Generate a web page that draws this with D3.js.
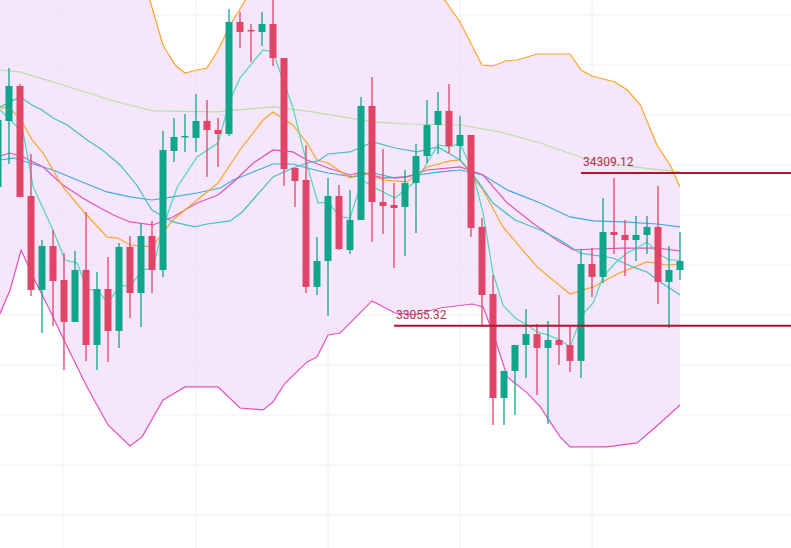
<!DOCTYPE html>
<html><head><meta charset="utf-8">
<script src="https://cdn.jsdelivr.net/npm/d3@7/dist/d3.min.js"></script>
<style>body{margin:0;background:#fff}svg{display:block}</style>
</head><body><svg id="c" width="791" height="548"></svg>
<script>
// candles: [open, high, low, close]
const candles = [
[34194,34784,34169,34743],[34735,35169,34382,35022],[35022,35038,34112,34112],[34120,34464,33300,33349],
[33349,33759,32996,33710],[33710,33841,33054,33423],[33431,33652,32693,33087],[33087,33669,33087,33513],
[33513,33989,32767,32898],[32898,33497,32693,33357],[33357,33620,32759,33013],[33013,33734,32873,33702],
[33702,33792,33119,33324],[33324,33898,33046,33792],[33792,33915,33324,33513],[33513,34653,33456,34497],
[34489,34759,34399,34604],[34604,34792,34481,34612],[34596,34956,34481,34735],[34735,34907,34276,34661],
[34661,34759,34358,34628],[34628,35653,34612,35547],[35547,35629,35333,35465],[35481,35530,35219,35473],
[35465,35629,35350,35530],[35530,35768,35186,35251],[35251,35251,34202,34341],[34349,34349,34030,34243],
[34251,34538,33324,33374],[33374,33784,33308,33587],[33587,34267,33136,34120],[34120,34210,33677,33685],
[33677,34169,33644,33923],[33923,34932,33923,34858],[34858,35096,33743,34071],[34071,34505,33808,34038],
[34046,34226,33529,34021],[34030,34333,33628,34226],[34226,34546,33816,34448],[34448,34907,34390,34702],
[34702,34973,34464,34817],[34817,35038,34472,34530],[34530,34776,34415,34620],[34620,34620,33784,33857],
[33866,33939,33062,33308],[33316,33472,32242,32463],[32463,32685,32242,32685],[32685,32898,32324,32898],
[32898,33193,32627,32988],[32988,33070,32488,32873],[32873,33095,32250,32939],[32939,33308,32734,32898],
[32898,33062,32677,32767],[32767,33685,32627,33562],[33562,33693,33292,33456],[33456,34103,33406,33824],
[33824,34267,33644,33800],[33800,33923,33464,33759],[33759,33956,33587,33800],[33800,33956,33644,33866],
[33866,34202,33234,33415],[33415,33710,33037,33513],[33513,33824,33431,33587]];

// indicator lines: [candle index, price]
const bbUpper = [[0,36137],[12.9,36137],[13.8,35727],[15,35358],[16.1,35194],[17,35128],[18.1,35153],[19,35169],[20,35317],[21.1,35522],[22.5,35727],[23.4,35973],[39.3,35973],[40.6,35727],[42,35547],[44,35194],[45,35186],[46.1,35227],[47.2,35235],[49,35284],[52,35284],[53,35153],[54,35104],[56.1,35055],[57.2,34989],[58.4,34866],[59.9,34538],[61.1,34374],[62,34194]];
const bbLower = [[0,33119],[1.1,33349],[2.1,33677],[3.2,33456],[4.7,33185],[6.3,32882],[8.1,32554],[10,32242],[12,32070],[13.1,32144],[15,32447],[17,32554],[20,32554],[22,32381],[24.1,32365],[25,32431],[26.1,32586],[28.1,32759],[29,32800],[30,32980],[31.1,32996],[34,33259],[36.1,33160],[37.9,33144],[40.2,33201],[43.1,33234],[44.1,33210],[45,32996],[46.3,32636],[48.1,32505],[49.3,32390],[51.1,32144],[52,32062],[55.4,32062],[58.1,32095],[60.2,32258],[62,32406]];
const maFast = [[0.2,34825],[2.3,34636],[3.2,34194],[5,33841],[6.1,33595],[7.2,33570],[8.1,33349],[9,33349],[10,33242],[11.1,33390],[12,33374],[13.1,33513],[14.1,33529],[15,33866],[16.3,34194],[18.1,34440],[20,34554],[21.1,34907],[22,35087],[23.1,35210],[24.1,35317],[25,35301],[25.9,35071],[26.8,34850],[27.6,34554],[28.4,34276],[29.1,34062],[30,34071],[31.1,33948],[32,33939],[33.1,34251],[34.1,34194],[36.1,34103],[37,34169],[38.1,34251],[39,34390],[40,34538],[41.1,34522],[42,34554],[43.1,34333],[44.1,33980],[45,33489],[45.9,33226],[47,33119],[48.1,33062],[49,33005],[50,32980],[51.1,32939],[52,32882],[53.1,33144],[54.1,33242],[55,33456],[56.1,33570],[57.2,33652],[58.1,33693],[59,33743],[60.2,33636],[61.1,33595],[62,33595]];
const maMid = [[0.2,34850],[2,34932],[3.1,34866],[4,34825],[5,34759],[6.3,34702],[8.1,34579],[9.5,34497],[11.1,34374],[12.6,34210],[14,34005],[15.9,33907],[17.9,33866],[19,33890],[21.1,33915],[22.2,33989],[25,34276],[26.8,34349],[28.1,34390],[29.1,34407],[30,34464],[32,34481],[34.1,34563],[36.1,34513],[38.1,34481],[40,34522],[42,34415],[43.1,34308],[45,34062],[47,33923],[49.3,33841],[51.1,33759],[52.9,33652],[55.9,33611],[57.7,33538],[59,33497],[60.2,33415],[62,33308]];
const maBlue = [[0.2,34415],[1.4,34431],[3.2,34382],[5,34333],[7.2,34251],[9.9,34153],[12,34112],[14,34087],[15.9,34112],[18.1,34144],[20.2,34185],[21.4,34251],[23.2,34317],[25,34382],[26.8,34382],[28.1,34349],[30,34308],[32.3,34276],[34.1,34308],[36.1,34267],[38.1,34292],[40.2,34317],[42,34333],[44.1,34292],[46.3,34169],[49.3,34062],[52,33948],[54.1,33915],[56.8,33907],[59.9,33890],[62,33866]];
const maPink = [[0.2,34448],[1.1,34472],[2.3,34440],[4.1,34358],[5.9,34210],[7.7,34103],[9.3,34021],[10.5,33964],[12,33907],[14.1,33882],[15.9,33948],[18.1,34062],[20,34128],[21.4,34235],[23.2,34390],[25,34497],[26.8,34481],[28.1,34415],[30,34349],[32,34292],[33.1,34317],[35,34267],[37.2,34276],[39,34333],[42,34358],[44.1,34292],[46.3,34062],[48.6,33898],[50.8,33759],[52.3,33677],[54.1,33685],[56.8,33693],[59.9,33693],[62,33669]];
const maOrange = [[0.2,34841],[0.9,34850],[2,34759],[3.1,34579],[4.1,34472],[5.9,34194],[7.9,33980],[9.9,33784],[10.9,33775],[12,33718],[14,33702],[15.9,33923],[18.1,34087],[20,34226],[22,34497],[24.1,34743],[25,34809],[26.8,34702],[28.1,34554],[29,34415],[30,34390],[32,34267],[33.1,34317],[35,34251],[37.2,34235],[39,34358],[41.1,34407],[42,34415],[44.1,34169],[45.9,33866],[49,33538],[52,33316],[54.1,33374],[56.3,33480],[59,33579],[60.8,33554],[62,33562]];
const maLong = [[0.2,35153],[2,35137],[5.9,35030],[10.2,34907],[14.1,34817],[19.9,34809],[25,34850],[28.6,34809],[32,34759],[34.1,34727],[37.2,34710],[42,34702],[45.6,34645],[49.3,34554],[53.2,34431],[57.7,34358],[62,34317]];
const levels = [{price:34309.12, from:53, label:"34309.12"},{price:33055.32, from:36, label:"33055.32"}];
const gridPrices = [35604,35194,34784,34374,33964,33554,33144,32734,32324,31914,31504];
const gridIdx = [5.9,18,30,42,54];

const svg = d3.select("#c");
const x = d3.scaleLinear().domain([0,62]).range([-2,680]);
const y = d3.scaleLinear().domain([35727,31233]).range([0,548]);

const g = svg.append("g");
g.selectAll(".gh").data(gridPrices).join("line").attr("x1",0).attr("x2",791)
 .attr("y1",d=>y(d)).attr("y2",d=>y(d)).attr("stroke","#eef0f5").attr("stroke-width",1);
g.selectAll(".gv").data(gridIdx).join("line").attr("y1",0).attr("y2",548)
 .attr("x1",d=>x(d)).attr("x2",d=>x(d)).attr("stroke","#eef0f5").attr("stroke-width",1);

const ln = d3.line().x(d=>x(d[0])).y(d=>y(d[1]));
const poly = bbUpper.concat(bbLower.slice().reverse());
svg.append("path").attr("d", ln(poly)+"Z").attr("fill","#f0d8fa").attr("fill-opacity",0.65);

const lines = [
 [maLong,"#b9e0a0"],[maBlue,"#3fa9e8"],[maPink,"#e052b8"],[maOrange,"#f8a52a"],
 [maMid,"#45bfc0"],[maFast,"#4dd6b8"],[bbUpper,"#f6a623"],[bbLower,"#e44fbe"]];
lines.forEach(([d,c])=>svg.append("path").attr("d",ln(d)).attr("fill","none").attr("stroke",c).attr("stroke-width",1.2));

const up="#0fa68b", dn="#e04466";
const cg = svg.append("g");
cg.selectAll(".w").data(candles).join("line")
 .attr("x1",(d,i)=>x(i)).attr("x2",(d,i)=>x(i)).attr("y1",d=>y(d[1])).attr("y2",d=>y(d[2]))
 .attr("stroke",d=>d[3]>=d[0]?up:dn).attr("stroke-width",1.3);
cg.selectAll(".b").data(candles).join("rect")
 .attr("x",(d,i)=>x(i)-3.5).attr("width",7)
 .attr("y",d=>y(Math.max(d[0],d[3])))
 .attr("height",d=>Math.max(1.5,Math.abs(y(d[0])-y(d[3]))))
 .attr("fill",d=>d[3]>=d[0]?up:dn);

levels.forEach(l=>{
 svg.append("line").attr("x1",x(l.from)).attr("x2",791).attr("y1",y(l.price)).attr("y2",y(l.price))
  .attr("stroke","#b3122f").attr("stroke-width",2);
 svg.append("text").attr("x",x(l.from)+2).attr("y",y(l.price)-7).text(l.label)
  .attr("font-family","Roboto, sans-serif").attr("font-size",12).attr("fill","#b0304a");
});
</script></body></html>
